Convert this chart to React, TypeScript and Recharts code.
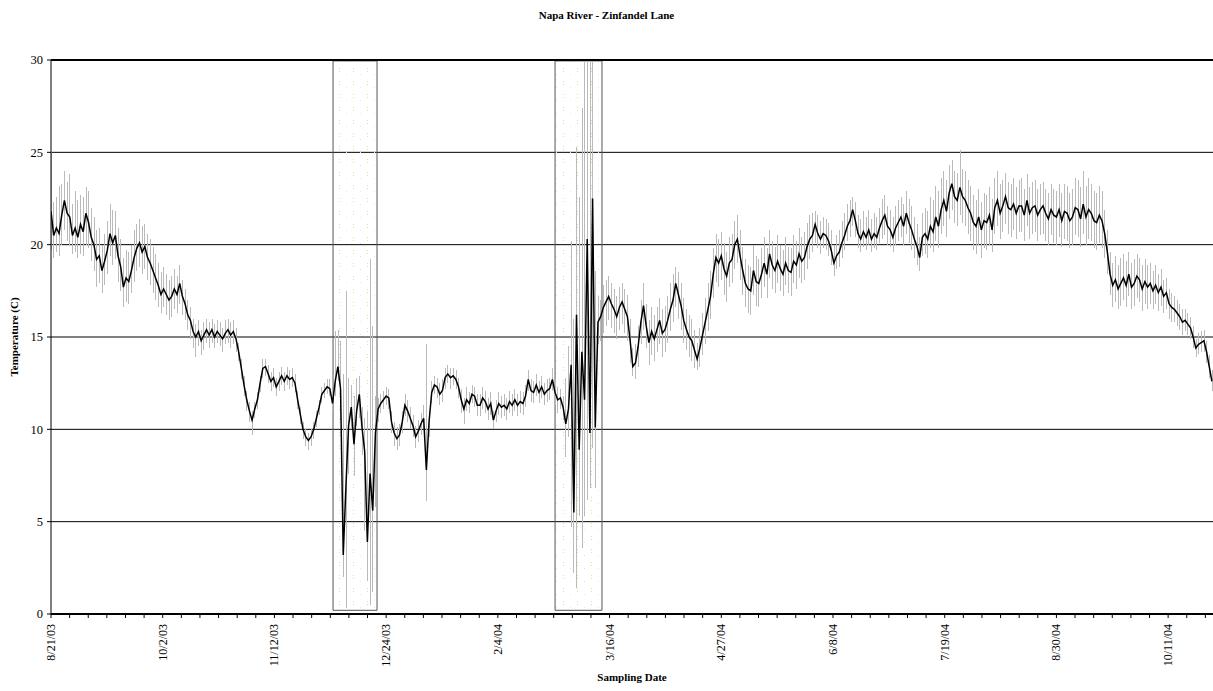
import { ComposedChart, Line, Bar, XAxis, YAxis, CartesianGrid, ReferenceArea, ReferenceLine } from 'recharts';

const FONT = "'Liberation Serif', 'Times New Roman', serif";

// one value per day, starting 8/21/03
const temp = [
    21.8, 20.5, 20.9, 20.6, 21.6, 22.4, 21.7, 21.5, 20.5, 20.9,
    20.4, 21.1, 20.7, 21.7, 21.2, 20.4, 20.0, 19.2, 19.4, 18.6,
    19.1, 19.7, 20.6, 20.1, 20.5, 19.4, 18.8, 17.7, 18.2, 18.0,
    18.6, 19.3, 19.8, 20.1, 19.6, 19.9, 19.3, 19.0, 18.6, 18.2,
    17.8, 17.3, 17.6, 17.3, 17.0, 17.2, 17.6, 17.3, 17.9, 17.2,
    16.8, 16.2, 15.9, 15.3, 15.0, 15.3, 14.8, 15.1, 15.4, 15.1,
    15.4, 15.0, 15.3, 15.1, 14.9, 15.2, 15.4, 15.1, 15.3, 14.9,
    14.2, 13.3, 12.4, 11.6, 11.0, 10.5, 11.1, 11.6, 12.5, 13.3,
    13.4, 13.0, 12.6, 12.8, 12.3, 12.6, 12.9, 12.6, 12.9, 12.7,
    12.8, 12.5, 11.6, 10.8, 10.0, 9.6, 9.4, 9.6, 10.0, 10.6,
    11.2, 11.9, 12.1, 12.3, 12.2, 11.4, 12.6, 13.4, 12.2, 3.2,
    6.9, 10.2, 11.2, 9.2, 11.0, 11.9, 10.1, 8.8, 3.9, 7.6,
    5.6, 9.8, 11.1, 11.4, 11.6, 11.8, 11.7, 10.4, 9.8, 9.5,
    9.7, 10.4, 11.3, 11.0, 10.6, 10.2, 9.6, 9.9, 10.3, 10.6,
    7.8, 10.4, 12.0, 12.4, 12.3, 11.9, 12.1, 12.8, 13.0, 12.8,
    12.9, 12.7, 12.3, 11.6, 11.1, 11.6, 11.4, 11.9, 11.8, 11.3,
    11.3, 11.7, 11.5, 11.1, 11.4, 10.5, 11.0, 11.4, 11.2, 11.3,
    11.1, 11.5, 11.3, 11.6, 11.3, 11.5, 11.4, 11.8, 12.7, 12.1,
    12.0, 12.4, 12.0, 12.3, 11.9, 12.1, 12.2, 12.7, 12.0, 11.6,
    11.7, 11.2, 10.3, 11.1, 13.5, 5.5, 16.2, 8.9, 14.2, 11.6,
    20.3, 9.8, 22.5, 10.1, 15.8, 16.1, 16.6, 16.9, 17.2, 16.8,
    16.5, 16.1, 16.6, 16.9, 16.5, 16.1, 14.8, 13.4, 13.6, 14.5,
    15.8, 16.7, 15.6, 14.7, 15.3, 14.9, 15.4, 15.9, 15.2, 15.4,
    15.9, 16.5, 17.0, 17.9, 17.3, 16.7, 15.9, 15.4, 15.0, 14.8,
    14.3, 13.8, 14.4, 15.1, 15.8, 16.5, 17.2, 18.4, 19.3, 19.0,
    19.4, 18.7, 18.3, 19.0, 19.2, 20.0, 20.3, 19.4, 18.6, 17.9,
    17.6, 17.5, 18.6, 18.0, 17.9, 18.4, 19.0, 18.4, 19.5, 18.9,
    18.6, 19.1, 18.7, 18.4, 19.0, 18.6, 18.5, 19.1, 18.9, 19.5,
    19.1, 19.3, 19.9, 20.3, 20.5, 21.1, 20.6, 20.3, 20.6, 20.5,
    20.2, 19.7, 19.0, 19.4, 19.6, 20.1, 20.5, 21.0, 21.3, 21.9,
    21.3, 20.6, 20.3, 20.7, 20.4, 20.8, 20.3, 20.6, 20.4, 20.9,
    21.3, 21.6, 21.0, 20.8, 20.4, 20.9, 21.2, 21.5, 21.0, 21.7,
    21.2, 20.8, 20.3, 19.9, 19.3, 20.4, 20.6, 20.3, 21.0, 20.7,
    21.5, 21.0, 21.9, 22.4, 21.8, 22.8, 23.3, 22.6, 22.4, 23.1,
    22.6, 22.4, 22.0, 21.7, 21.2, 21.0, 21.5, 20.8, 21.3, 21.2,
    21.6, 20.8, 22.0, 22.4, 21.7, 22.1, 22.6, 22.0, 21.9, 22.2,
    21.7, 22.1, 22.1, 21.6, 22.4, 21.7, 22.0, 22.1, 21.6, 21.9,
    22.1, 21.7, 21.4, 21.9, 21.6, 21.5, 21.9, 21.3, 21.8, 21.7,
    21.3, 21.5, 22.0, 21.9, 21.4, 22.2, 21.5, 21.9, 21.7, 21.3,
    21.2, 21.6, 21.3, 20.6, 19.6, 18.4, 17.8, 18.1, 17.6, 17.9,
    18.2, 17.8, 18.4, 17.7, 17.9, 18.3, 18.1, 17.6, 18.0, 17.7,
    17.9, 17.5, 17.8, 17.4, 17.7, 17.2, 17.4, 16.8, 16.6, 16.5,
    16.3, 16.1, 15.8, 15.9, 15.7, 15.5, 15.0, 14.4, 14.6, 14.7,
    14.8, 14.2, 13.4, 12.6,
];

const high = [
    25.0, 22.3, 22.6, 23.2, 23.3, 24.0, 23.4, 23.8, 22.2, 22.9,
    22.4, 22.7, 22.6, 23.1, 22.9, 22.0, 21.5, 20.8, 20.9, 20.0,
    20.6, 21.3, 22.2, 21.9, 21.8, 20.9, 20.3, 19.3, 19.7, 19.6,
    20.0, 20.8, 21.1, 21.4, 21.0, 21.1, 20.6, 20.3, 19.9, 19.5,
    19.0, 18.5, 18.8, 18.4, 18.1, 18.3, 18.7, 18.3, 18.9, 18.1,
    17.6, 17.0, 16.6, 16.0, 15.7, 15.9, 15.4, 15.8, 16.0, 15.8,
    16.0, 15.7, 15.9, 15.8, 15.5, 15.9, 16.0, 15.8, 15.9, 15.5,
    14.7, 13.8, 12.9, 12.1, 11.5, 11.0, 11.5, 12.0, 12.9, 13.8,
    13.8, 13.5, 13.1, 13.3, 12.8, 13.1, 13.4, 13.1, 13.4, 13.2,
    13.3, 13.0, 12.1, 11.2, 10.4, 10.0, 9.8, 10.0, 10.4, 11.0,
    11.6, 12.3, 12.5, 12.7, 12.7, 11.9, 15.3, 15.4, 14.8, 13.0,
    17.5, 12.8, 12.4, 11.8, 12.8, 12.9, 11.2, 10.6, 11.0, 19.2,
    15.6, 11.8, 11.7, 11.9, 12.1, 12.3, 12.2, 11.0, 10.4, 10.1,
    10.3, 11.0, 11.9, 11.6, 11.2, 10.8, 10.2, 10.5, 10.9, 11.3,
    14.6, 11.0, 12.6, 12.9, 12.8, 12.5, 12.7, 13.3, 13.5, 13.3,
    13.3, 13.2, 12.8, 12.2, 11.7, 12.3, 12.0, 12.4, 12.3, 11.9,
    11.9, 12.3, 12.1, 11.7, 12.0, 11.0, 11.6, 12.0, 11.8, 11.9,
    11.7, 12.1, 11.9, 12.2, 11.9, 12.1, 12.0, 12.4, 13.2, 12.7,
    12.6, 13.0, 12.6, 12.9, 12.5, 12.7, 12.8, 13.3, 12.7, 12.3,
    12.2, 11.8, 12.8, 14.5, 20.2, 16.0, 25.3, 22.6, 27.4, 30.0,
    30.0, 30.0, 30.0, 18.6, 17.2, 17.0, 17.8, 18.1, 18.3, 17.9,
    17.6, 17.2, 17.7, 17.9, 17.6, 17.3, 16.0, 14.4, 14.6, 15.6,
    17.0, 17.9, 16.8, 15.9, 16.6, 16.2, 16.6, 17.1, 16.5, 16.7,
    17.2, 17.9, 18.4, 18.8, 18.5, 17.9, 17.1, 16.5, 16.2, 16.0,
    15.4, 14.7, 15.5, 16.3, 17.1, 17.9, 18.6, 19.8, 20.6, 20.3,
    20.7, 20.1, 19.6, 20.4, 20.6, 21.3, 21.6, 20.8, 19.9, 19.2,
    18.9, 18.8, 20.0, 19.4, 19.2, 19.8, 20.4, 19.8, 20.8, 20.2,
    19.9, 20.5, 20.0, 19.7, 20.4, 19.9, 19.8, 20.5, 20.2, 20.9,
    20.4, 20.7, 21.2, 21.6, 21.7, 21.8, 21.6, 21.3, 21.5, 21.4,
    21.2, 20.8, 20.0, 20.5, 20.8, 21.3, 21.7, 22.2, 22.4, 22.6,
    22.3, 21.6, 21.4, 21.8, 21.5, 21.9, 21.4, 21.7, 21.5, 22.0,
    22.5, 22.7, 22.1, 21.9, 21.5, 22.1, 22.4, 22.6, 22.2, 22.9,
    22.5, 22.1, 21.5, 21.1, 20.4, 21.7, 22.0, 21.8, 22.6, 22.4,
    23.2, 22.9, 23.6, 24.0, 23.5, 24.3, 24.6, 24.0, 23.9, 25.1,
    24.1, 24.0, 23.5, 23.2, 22.7, 22.4, 23.0, 22.3, 22.8, 22.7,
    23.1, 22.5, 23.6, 24.0, 23.3, 23.5, 23.9, 23.4, 23.3, 23.6,
    23.1, 23.5, 23.6, 23.0, 23.8, 23.1, 23.4, 23.5, 23.0, 23.3,
    23.4, 23.0, 22.8, 23.3, 23.0, 22.9, 23.3, 22.8, 23.3, 23.2,
    22.8, 23.0, 23.6, 23.5, 23.1, 24.0, 23.2, 23.6, 23.3, 22.9,
    22.8, 23.2, 22.9, 21.9, 20.8, 19.6, 19.0, 19.4, 18.9, 19.3,
    19.5, 19.1, 19.6, 19.0, 19.2, 19.5, 19.3, 18.9, 19.2, 18.9,
    19.0, 18.6, 18.9, 18.4, 18.7, 18.1, 18.2, 17.6, 17.4, 17.2,
    17.0, 16.8, 16.5, 16.5, 16.3, 16.1, 15.6, 14.9, 15.2, 15.3,
    15.4, 14.8, 14.0, 13.2,
];

const low = [
    19.7, 19.3, 19.6, 19.4, 20.0, 20.8, 20.2, 20.0, 19.5, 19.6,
    19.3, 19.5, 19.4, 20.0, 19.8, 19.1, 18.6, 17.7, 17.9, 17.4,
    17.8, 18.4, 19.4, 18.9, 19.2, 18.0, 17.5, 16.6, 16.9, 16.8,
    17.4, 18.0, 18.6, 18.8, 18.4, 18.7, 18.1, 17.8, 17.4, 17.0,
    16.6, 16.3, 16.6, 16.2, 15.9, 16.1, 16.5, 16.3, 16.8, 16.2,
    15.9, 15.4, 14.9, 14.4, 13.9, 14.5, 14.0, 14.3, 14.7, 14.4,
    14.7, 14.4, 14.7, 14.5, 14.2, 14.6, 14.7, 14.4, 14.6, 14.2,
    13.7, 12.7, 11.8, 11.0, 10.4, 9.7, 10.6, 11.1, 12.0, 12.8,
    12.9, 12.5, 12.1, 12.3, 11.8, 12.1, 12.4, 12.1, 12.4, 12.2,
    12.3, 12.0, 11.1, 10.3, 9.5, 9.1, 8.9, 9.1, 9.5, 10.1,
    10.8, 11.4, 11.7, 11.9, 11.8, 10.9, 11.8, 12.6, 10.5, 2.0,
    0.3, 7.6, 10.0, 7.5, 10.2, 10.6, 8.6, 4.5, 1.8, 0.5,
    1.2, 5.8, 10.4, 10.9, 11.1, 11.3, 11.1, 9.8, 9.1, 8.9,
    9.1, 9.8, 10.7, 10.4, 10.0, 9.6, 9.0, 9.3, 9.7, 10.0,
    6.1, 9.6, 11.4, 11.9, 11.7, 11.3, 11.5, 12.2, 12.5, 12.2,
    12.4, 12.2, 11.7, 10.9, 10.3, 11.0, 10.9, 11.4, 11.2, 10.7,
    10.7, 11.1, 10.9, 10.5, 10.8, 10.0, 10.4, 10.8, 10.6, 10.7,
    10.5, 10.9, 10.7, 11.0, 10.7, 10.9, 10.8, 11.2, 12.1, 11.5,
    11.4, 11.8, 11.4, 11.7, 11.3, 11.5, 11.6, 12.1, 11.3, 10.9,
    11.1, 10.5, 8.5, 9.6, 4.7, 2.2, 1.4, 5.3, 3.6, 5.3,
    6.2, 6.8, 9.0, 6.8, 14.6, 14.8, 15.2, 15.6, 15.9, 15.5,
    15.2, 14.9, 15.4, 15.7, 15.2, 14.8, 13.6, 12.9, 12.7, 13.4,
    14.6, 15.4, 14.4, 13.5, 14.0, 13.7, 14.2, 14.6, 13.9, 14.2,
    14.7, 15.3, 15.8, 16.6, 16.0, 15.4, 14.7, 14.3, 13.9, 13.7,
    13.3, 13.2, 13.4, 14.0, 14.6, 15.3, 16.0, 17.1, 18.0, 17.7,
    18.1, 17.3, 16.9, 17.7, 17.9, 18.7, 19.0, 18.1, 17.3, 16.6,
    16.3, 16.2, 17.3, 16.7, 16.6, 17.1, 17.7, 17.1, 18.2, 17.6,
    17.4, 17.9, 17.5, 17.2, 17.8, 17.4, 17.2, 17.9, 17.6, 18.2,
    17.9, 18.1, 18.7, 19.2, 19.6, 20.1, 19.8, 19.5, 19.8, 19.7,
    19.4, 18.9, 18.3, 18.7, 18.8, 19.3, 19.7, 20.2, 20.4, 21.0,
    20.4, 19.8, 19.6, 19.9, 19.7, 20.0, 19.6, 19.8, 19.7, 20.1,
    20.3, 20.5, 20.0, 19.9, 19.6, 20.0, 20.2, 20.4, 20.0, 20.6,
    20.1, 19.7, 19.3, 18.9, 18.6, 19.4, 19.5, 19.3, 19.8, 19.6,
    20.2, 19.8, 20.6, 21.0, 20.4, 21.4, 21.9, 21.2, 21.0, 21.6,
    21.2, 21.0, 20.6, 20.2, 19.7, 19.5, 20.0, 19.3, 19.8, 19.7,
    20.0, 19.6, 20.6, 21.0, 20.3, 20.7, 21.1, 20.6, 20.4, 20.8,
    20.3, 20.7, 20.7, 20.2, 21.0, 20.3, 20.6, 20.7, 20.2, 20.5,
    20.6, 20.2, 20.0, 20.5, 20.1, 20.0, 20.4, 19.9, 20.3, 20.2,
    19.8, 20.0, 20.5, 20.4, 19.9, 20.6, 20.0, 20.3, 20.2, 19.8,
    19.7, 20.1, 19.8, 19.3, 18.4, 17.3, 16.6, 16.9, 16.5, 16.7,
    17.0, 16.6, 17.2, 16.5, 16.7, 17.1, 16.9, 16.4, 16.8, 16.5,
    16.8, 16.5, 16.8, 16.4, 16.7, 16.3, 16.5, 16.0, 15.8, 15.8,
    15.6, 15.4, 15.1, 15.3, 15.1, 14.9, 14.4, 13.9, 14.1, 14.2,
    14.2, 13.6, 12.8, 12.1,
];

const dateLabels = ['8/21/03', '10/2/03', '11/12/03', '12/24/03', '2/4/04', '3/16/04', '4/27/04', '6/8/04', '7/19/04', '8/30/04', '10/11/04'];
const yTicks = [0, 5, 10, 15, 20, 25, 30];

// flagged periods (days since 8/21/03)
const flagged = [
    { from: 105.2, to: 121.6 },
    { from: 188.0, to: 205.5 },
];

const LABEL_STEP = 1000 / 24; // 1000 hourly readings per label
const MINOR_PER_LABEL = 6;
const MINOR_STEP = LABEL_STEP / MINOR_PER_LABEL;
const LAST_DAY = 433.4;

const data = temp.map((t, i) => ({ day: i, temp: t, range: [low[i], high[i]] }));
const xTicks = Array.from({ length: Math.floor(LAST_DAY / MINOR_STEP) + 1 }, (_, i) => i * MINOR_STEP);

const DateTick = (props: any) => {
    const { x, y, payload } = props;
    const i = Math.round(payload.value / MINOR_STEP);
    if (i % MINOR_PER_LABEL !== 0) return <g />;
    const ax = x + 4;
    const ay = y + 4;
    return (
        <text x={ax} y={ay} transform={`rotate(-90 ${ax} ${ay})`} textAnchor="end" fontSize={12} fontFamily={FONT} fill="#000">
            {dateLabels[i / MINOR_PER_LABEL]}
        </text>
    );
};

export default function App() {
    return (
        <div style={{ position: 'absolute', left: 0, top: 0, width: 1213, height: 691, background: '#fff', fontFamily: FONT }}>
            <style>{'.recharts-bar-rectangle path { shape-rendering: crispEdges; }'}</style>
            <div style={{ position: 'absolute', left: 0, top: 9, width: 1213, textAlign: 'center', fontSize: 11, fontWeight: 'bold' }}>
                Napa River - Zinfandel Lane
            </div>
            <div style={{ position: 'absolute', left: -85, top: 330, width: 200, height: 14, textAlign: 'center', fontSize: 11, fontWeight: 'bold', transform: 'rotate(-90deg)' }}>
                Temperature (C)
            </div>
            <div style={{ position: 'absolute', left: 51, top: 671, width: 1162, textAlign: 'center', fontSize: 11, fontWeight: 'bold' }}>
                Sampling Date
            </div>
            <ComposedChart width={1213} height={691} data={data} margin={{ top: 60, right: 0, bottom: 0, left: 0 }}>
                <defs>
                    <pattern id="flagDots" width="14" height="13" patternUnits="userSpaceOnUse">
                        <rect x="3" y="3" width="1" height="1" fill="#f7d2a6" />
                        <rect x="3" y="6" width="1" height="1" fill="#f7d2a6" />
                        <rect x="10" y="9" width="1" height="1" fill="#e6e6e6" />
                    </pattern>
                </defs>
                <CartesianGrid vertical={false} stroke="#000" horizontalValues={yTicks} />
                <XAxis
                    type="number"
                    dataKey="day"
                    domain={[0, LAST_DAY]}
                    ticks={xTicks}
                    interval={0}
                    tick={<DateTick />}
                    tickSize={4}
                    height={77}
                    axisLine={{ stroke: '#000', strokeWidth: 2 }}
                    tickLine={{ stroke: '#000' }}
                    allowDataOverflow
                />
                <YAxis
                    type="number"
                    domain={[0, 30]}
                    ticks={yTicks}
                    width={51}
                    tickSize={4}
                    tickMargin={4}
                    axisLine={{ stroke: '#000' }}
                    tickLine={{ stroke: '#000' }}
                    tick={{ fill: '#000', fontSize: 12.5, fontFamily: FONT }}
                />
                <ReferenceLine y={30} stroke="#000" strokeWidth={2} />
                <Bar dataKey="range" fill="#bababa" barSize={1} isAnimationActive={false} />
                <Line type="linear" dataKey="temp" stroke="#000" strokeWidth={1.5} dot={false} isAnimationActive={false} />
                {flagged.map((f, i) => (
                    <ReferenceArea key={i} x1={f.from} x2={f.to} y1={0.2} y2={29.95} stroke="#555" strokeWidth={1} fill="url(#flagDots)" fillOpacity={1} />
                ))}
            </ComposedChart>
        </div>
    );
}
